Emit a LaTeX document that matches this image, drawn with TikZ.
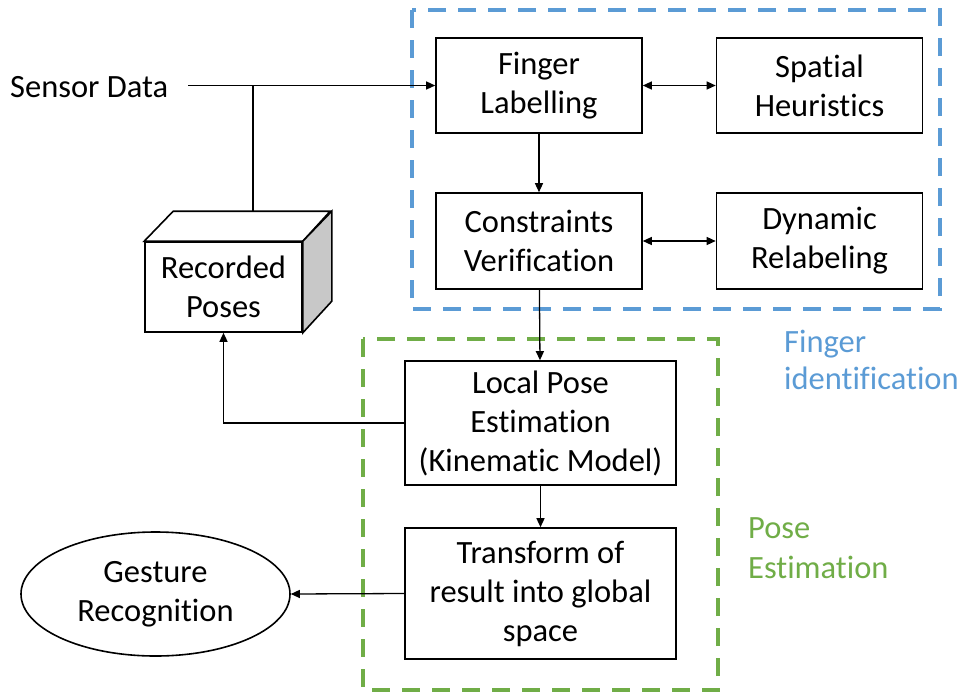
\documentclass[tikz,border=0pt]{standalone}
\usepackage{fontspec}
\setmainfont{Carlito}[Ligatures=NoCommon]
\usetikzlibrary{arrows.meta,shapes.geometric,calc}
\definecolor{fiblue}{HTML}{5B9BD5}
\definecolor{pegreen}{HTML}{70AD47}
\definecolor{sidegray}{HTML}{C8C8C8}

\begin{document}
\begin{tikzpicture}[x=1pt,y=-1pt,
  lbl/.style={font=\fontsize{32.5}{39}\selectfont, align=center},
  box/.style={draw, line width=1.6pt, inner sep=0pt, fill=white, lbl},
  conn/.style={line width=1.3pt, -{Triangle[length=9pt,width=8pt]}},
  biconn/.style={line width=1.3pt, {Triangle[length=9pt,width=8pt]}-{Triangle[length=9pt,width=8pt]}},
  group/.style={line width=4pt, dash pattern=on 18pt off 12pt},
  grouplbl/.style={font=\fontsize{32.5}{39}\selectfont, anchor=base west, inner sep=0pt}
]
\useasboundingbox (0,0) rectangle (961,694);

% dashed group frames
\draw[group, fiblue] (412,10) rectangle (940,309);
\draw[group, pegreen] (363,339) rectangle (718,690);

% finger identification stage
\node[box, minimum width=206pt, minimum height=95pt] (fl) at (539,85.5) {Finger\\Labelling};
\node[box, minimum width=206pt, minimum height=95pt] (sh) at (819.5,85.5) {Spatial\\Heuristics};
\node[box, minimum width=206pt, minimum height=96pt] (cv) at (539,241) {Constraints\\Verification};
\node[box, minimum width=206pt, minimum height=96pt] (dr) at (819.5,241) {Dynamic\\Relabeling};

% pose estimation stage
\node[box, minimum width=271pt, minimum height=124pt] (lpe) at (540.5,423) {Local Pose\\Estimation\\(Kinematic Model)};
\node[box, minimum width=271pt, minimum height=131pt] (tr) at (540.5,593.5) {Transform of\\result into global\\space};

% output
\node[draw, ellipse, line width=1.6pt, inner sep=0pt, lbl, minimum width=269pt, minimum height=124pt] (gr) at (155.5,594) {Gesture\\Recognition};

% input
\node[lbl, anchor=west, inner sep=0pt] (sd) at (10,87) {Sensor Data};

% recorded poses store (box drawn in perspective)
\node[box, minimum width=157pt, minimum height=90pt] (rp) at (223.5,287) {Recorded\\Poses};
\draw[line width=1.6pt, fill=white] (rp.north west) -- ++(29,-30) -- ++(157,0) -- (rp.north east) -- cycle;
\draw[line width=1.6pt, fill=sidegray] (rp.north east) -- ++(29,-30) -- ++(0,90) -- (rp.south east) -- cycle;
\coordinate (rpback) at ($(rp.north)+(29,-30)$);

% connectors
\coordinate (s0) at (188,85.5);
\coordinate (j) at (253,85.5);
\draw[conn] (s0) -- (fl.west);
\draw[line width=1.3pt] (j) -- (j |- rpback);
\draw[biconn] (fl) -- (sh);
\draw[biconn] (cv) -- (dr);
\draw[conn] (fl) -- (cv);
\draw[conn] (cv) -- (lpe);
\draw[conn] (lpe) -- (tr);
\draw[conn] (lpe.west) -| (rp.south);
\draw[conn] (tr.west) -- (gr.east);

% group captions
\node[grouplbl, text=fiblue] (fi1) at (784,352) {Finger};
\node[grouplbl, text=fiblue] (fi2) at (784,389) {identification};
\node[grouplbl, text=pegreen] (pe1) at (748,538) {Pose};
\node[grouplbl, text=pegreen] (pe2) at (748,578) {Estimation};
\end{tikzpicture}
\end{document}
